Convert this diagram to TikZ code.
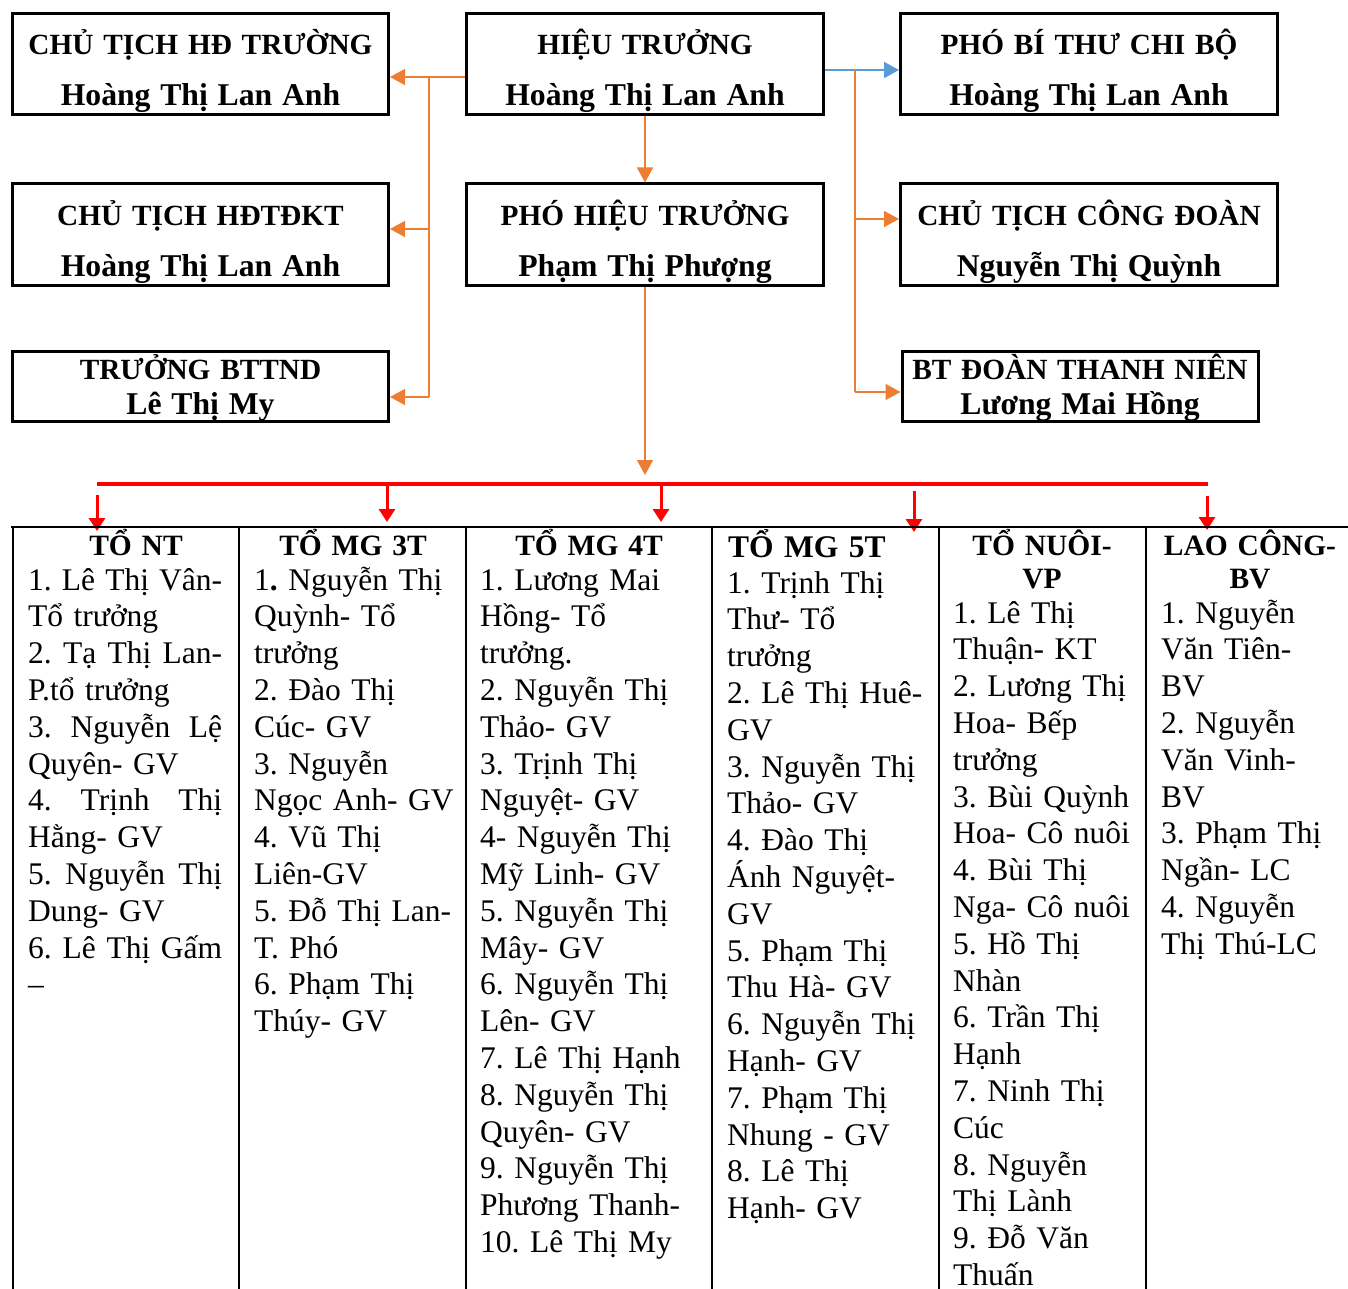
\documentclass[tikz,border=0pt]{standalone}
\usepackage{fontspec}
\setmainfont{Liberation Serif}
\usepackage{tikz}
\usetikzlibrary{arrows.meta, positioning, calc}
\frenchspacing

\definecolor{lineorange}{RGB}{237,125,49}
\definecolor{lineblue}{RGB}{91,155,213}
\definecolor{linered}{RGB}{255,0,0}

\tikzset{
  headbox/.style={draw, line width=3pt, inner sep=0pt, align=center,
    text height=41.5pt, text depth=59.5pt, font=\bfseries\fontsize{29.3}{51}\selectfont},
  namebox/.style={draw, line width=3pt, inner sep=0pt, align=center,
    text height=27.5pt, text depth=42.5pt, font=\bfseries\fontsize{29.3}{35}\selectfont},
  oline/.style={lineorange, line width=1.4pt},
  oarrow/.style={oline, -{Triangle[length=15pt,width=16pt]}},
  barrow/.style={lineblue, line width=2pt, -{Triangle[length=15pt,width=16pt]}},
  rline/.style={linered, line width=3.3pt},
  rarrow/.style={linered, line width=3pt, -{Triangle[length=13pt,width=16pt]}},
  tline/.style={line width=2pt},
  grouphead/.style={anchor=base, inner sep=0pt, align=center, text width=200pt,
    font=\bfseries\fontsize{29.5}{33}\selectfont},
  members/.style={anchor=base west, inner sep=0pt, align=left,
    font=\fontsize{31.5}{36.8}\selectfont},
}

\newcommand{\twoline}[2]{#1\\{\fontsize{31.7}{35}\selectfont #2}}
\newcommand{\jline}[1]{\leavevmode\hbox to 194pt{\spaceskip=0.25em plus 1fil\relax #1}}

\begin{document}
\begin{tikzpicture}[x=1pt, y=-1pt]
  \useasboundingbox (0,0) rectangle (1348,1289);

  % Top boxes
  \node[headbox, text width=376pt] (cth) at (200.5,64) {\twoline{CHỦ TỊCH HĐ TRƯỜNG}{Hoàng Thị Lan Anh}};
  \node[headbox, text width=357pt] (ht) at (645,64) {\twoline{HIỆU TRƯỞNG}{Hoàng Thị Lan Anh}};
  \node[headbox, text width=377pt] (pbt) at (1089,64) {\twoline{PHÓ BÍ THƯ CHI BỘ}{Hoàng Thị Lan Anh}};

  \node[headbox, text width=376pt] (hdtdkt) at (200.5,234.5) {\twoline{CHỦ TỊCH HĐTĐKT}{Hoàng Thị Lan Anh}};
  \node[headbox, text width=357pt] (pht) at (645,234.5) {\twoline{PHÓ HIỆU TRƯỞNG}{Phạm Thị Phượng}};
  \node[headbox, text width=377pt] (ctcd) at (1089,234.5) {\twoline{CHỦ TỊCH CÔNG ĐOÀN}{Nguyễn Thị Quỳnh}};

  \node[namebox, text width=376pt] (bttnd) at (200.5,386.5) {\twoline{TRƯỞNG BTTND}{Lê Thị My}};
  \node[namebox, text width=356pt] (btdtn) at (1080,386.5) {\twoline{BT ĐOÀN THANH NIÊN}{Lương Mai Hồng}};

  % Connectors, left side
  \coordinate (jl) at (429,77);
  \coordinate (jm) at (429,229);
  \coordinate (jb) at (429,397);
  \draw[oline] (ht.west |- jl) -- (jl) -- (jb);
  \draw[oarrow] (jl) -- (cth.east |- jl);
  \draw[oarrow] (jm) -- (hdtdkt.east |- jm);
  \draw[oarrow] (jb) -- (bttnd.east |- jb);

  % Connectors, right side
  \coordinate (jr) at (855,70);
  \coordinate (jc) at (855,219);
  \coordinate (jt) at (855,392);
  \draw[barrow] (ht.east |- jr) -- (pbt.west |- jr);
  \draw[oline] (jr) -- (jt);
  \draw[oarrow] (jc) -- (ctcd.west |- jc);
  \draw[oarrow] (jt) -- (btdtn.west |- jt);

  % Down to the groups
  \coordinate (busin) at (643,475);
  \draw[oarrow] (ht.south) -- (pht.north);
  \draw[oarrow] (pht.south) -- (pht.south |- busin);

  \coordinate (busL) at (97,484);
  \coordinate (busR) at (1208,484);
  \draw[rline] (busL) -- (busR);
  \foreach \n/\x/\ys/\ye in {a/97/495/531, b/387/484/522, c/661/484/522, d/914/491/532, e/1207/496/530} {
    \coordinate (rs\n) at (\x,\ys);
    \coordinate (re\n) at (\x,\ye);
    \draw[rarrow] (rs\n) -- (re\n);
  }

  % Table
  \draw[tline] (11,527) -- (1348,527);
  \foreach \x in {12.5,239,466,712,939,1146}
    \draw[tline] (\x,527) -- (\x,1289);

  \node[grouphead] (hdNT) at (136,555) {TỔ NT};
  \node[grouphead] (hdMG3) at (353,555) {TỔ MG 3T};
  \node[grouphead] (hdMG4) at (589,555) {TỔ MG 4T};
  \node[grouphead, anchor=base west, align=left, font=\bfseries\fontsize{31.5}{33}\selectfont] (hdMG5) at (728,557) {TỔ MG 5T};
  \node[grouphead] (hdNuoi) at (1042,555) {TỔ NUÔI-\\VP};
  \node[grouphead] (hdLC) at (1250,555) {LAO CÔNG-\\BV};

  \node[members, text width=205pt] (lsNT) at (28,590) {\jline{1. Lê Thị Vân-}\\Tổ trưởng\\\jline{2. Tạ Thị Lan-}\\P.tổ trưởng\\\jline{3. Nguyễn Lệ}\\Quyên- GV\\\jline{4. Trịnh Thị}\\Hằng- GV\\\jline{5. Nguyễn Thị}\\Dung- GV\\\jline{6. Lê Thị Gấm}\\–};
  \node[members, text width=210pt] (lsMG3) at (254,590) {1\textbf{.} Nguyễn Thị\\Quỳnh- Tổ\\trưởng\\2. Đào Thị\\Cúc- GV\\3. Nguyễn\\Ngọc Anh- GV\\4. Vũ Thị\\Liên-GV\\5. Đỗ Thị Lan-\\T. Phó\\6. Phạm Thị\\Thúy- GV};
  \node[members, text width=228pt] (lsMG4) at (480,590) {1. Lương Mai\\Hồng- Tổ\\trưởng.\\2. Nguyễn Thị\\Thảo- GV\\3. Trịnh Thị\\Nguyệt- GV\\4- Nguyễn Thị\\Mỹ Linh- GV\\5. Nguyễn Thị\\Mây- GV\\6. Nguyễn Thị\\Lên- GV\\7. Lê Thị Hạnh\\8. Nguyễn Thị\\Quyên- GV\\9. Nguyễn Thị\\Phương Thanh-\\10. Lê Thị My};
  \node[members, text width=210pt] (lsMG5) at (727,593) {1. Trịnh Thị\\Thư- Tổ\\trưởng\\2. Lê Thị Huê-\\GV\\3. Nguyễn Thị\\Thảo- GV\\4. Đào Thị\\Ánh Nguyệt-\\GV\\5. Phạm Thị\\Thu Hà- GV\\6. Nguyễn Thị\\Hạnh- GV\\7. Phạm Thị\\Nhung - GV\\8. Lê Thị\\Hạnh- GV};
  \node[members, text width=195pt] (lsNuoi) at (953,623) {1. Lê Thị\\Thuận- KT\\2. Lương Thị\\Hoa- Bếp\\trưởng\\3. Bùi Quỳnh\\Hoa- Cô nuôi\\4. Bùi Thị\\Nga- Cô nuôi\\5. Hồ Thị\\Nhàn\\6. Trần Thị\\Hạnh\\7. Ninh Thị\\Cúc\\8. Nguyễn\\Thị Lành\\9. Đỗ Văn\\Thuấn};
  \node[members, text width=185pt] (lsLC) at (1161,623) {1. Nguyễn\\Văn Tiên-\\BV\\2. Nguyễn\\Văn Vinh-\\BV\\3. Phạm Thị\\Ngần- LC\\4. Nguyễn\\Thị Thú-LC};
\end{tikzpicture}
\end{document}
